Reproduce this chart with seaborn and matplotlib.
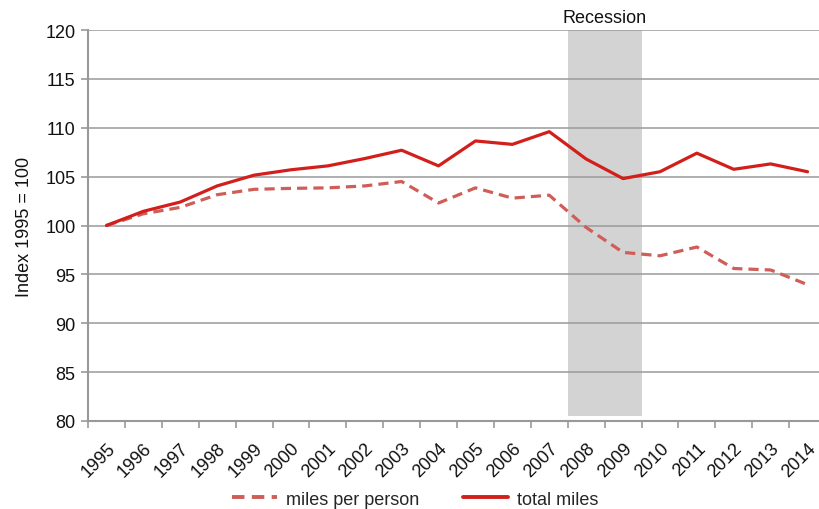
import numpy as np
import pandas as pd
import seaborn as sns
import matplotlib.pyplot as plt
from matplotlib.lines import Line2D

years = [str(y) for y in range(1995, 2015)]
total_miles = [100.0, 101.45, 102.4, 104.05, 105.15, 105.7, 106.1, 106.85, 107.7, 106.1,
               108.65, 108.3, 109.6, 106.8, 104.8, 105.5, 107.4, 105.75, 106.3, 105.5]
miles_per_person = [100.0, 101.2, 101.85, 103.15, 103.7, 103.8, 103.85, 104.05, 104.5, 102.3,
                    103.85, 102.8, 103.1, 99.8, 97.25, 96.9, 97.8, 95.6, 95.45, 93.95]
recession_years = ["2008", "2009"]

df = pd.DataFrame({
    "pos": list(range(len(years))) * 2,
    "value": miles_per_person + total_miles,
    "series": ["miles per person"] * len(years) + ["total miles"] * len(years),
})

sns.set_theme(style="white")
plt.rcParams["font.family"] = ["Liberation Sans", "DejaVu Sans"]

fig = plt.figure(figsize=(8.19, 5.10), dpi=100)
ax = fig.add_axes([88 / 819, 88 / 510, 731 / 819, 391 / 510])

palette = {"miles per person": "#cf5d58", "total miles": "#d21f1b"}
dashes = {"miles per person": (3.2, 1.9), "total miles": ""}
sns.lineplot(data=df, x="pos", y="value", hue="series", style="series",
             palette=palette, dashes=dashes, linewidth=2.3, ax=ax, legend=False, zorder=3)

# recession shading
r0 = years.index(recession_years[0]) - 0.5
r1 = years.index(recession_years[-1]) + 0.5
ax.axvspan(r0, r1, ymin=0.014, ymax=1.0, color="#d3d3d3", lw=0, zorder=0.4)
ax.text((r0 + r1) / 2, 120.4, "Recession", ha="center", va="bottom", fontsize=13, color="#111111")

ax.set_yticks(np.arange(80, 121, 5))
ax.set_xticks(np.arange(len(years)))
ax.set_xticklabels(years, rotation=45, ha="right", va="top", rotation_mode="anchor")
ax.set_xticks(np.arange(len(years) + 1) - 0.5, minor=True)
ax.set_ylim(80, 120)
ax.set_xlim(-0.5, 19.31)
ax.tick_params(axis="x", which="major", length=0, pad=13, labelsize=13, colors="#111111")
ax.tick_params(axis="x", which="minor", length=5, width=1.2, color="#999999", direction="out")
ax.tick_params(axis="y", length=5, width=1.2, color="#999999", direction="out", pad=4,
               labelsize=13, labelcolor="#111111")
ax.tick_params(bottom=True, left=True, which="both")

ax.grid(axis="y", color="#9a9a9a", linewidth=1.1)
ax.set_axisbelow(True)
for side in ["top", "right"]:
    ax.spines[side].set_visible(False)
for side in ["left", "bottom"]:
    ax.spines[side].set_color("#999999")
    ax.spines[side].set_linewidth(1.5)

ax.set_xlabel("")
ax.set_ylabel("Index 1995 = 100", fontsize=13, color="#111111", labelpad=9)

handles = [
    Line2D([], [], color=palette["miles per person"], lw=2.8, dashes=(3.2, 1.9)),
    Line2D([], [], color=palette["total miles"], lw=2.8),
]
fig.legend(handles, ["miles per person", "total miles"], loc="lower center",
           bbox_to_anchor=(0.507, -0.029), ncol=2, frameon=False, fontsize=13,
           handlelength=2.5, handletextpad=0.5, columnspacing=2.4)

fig.savefig("out.png", dpi=100)
